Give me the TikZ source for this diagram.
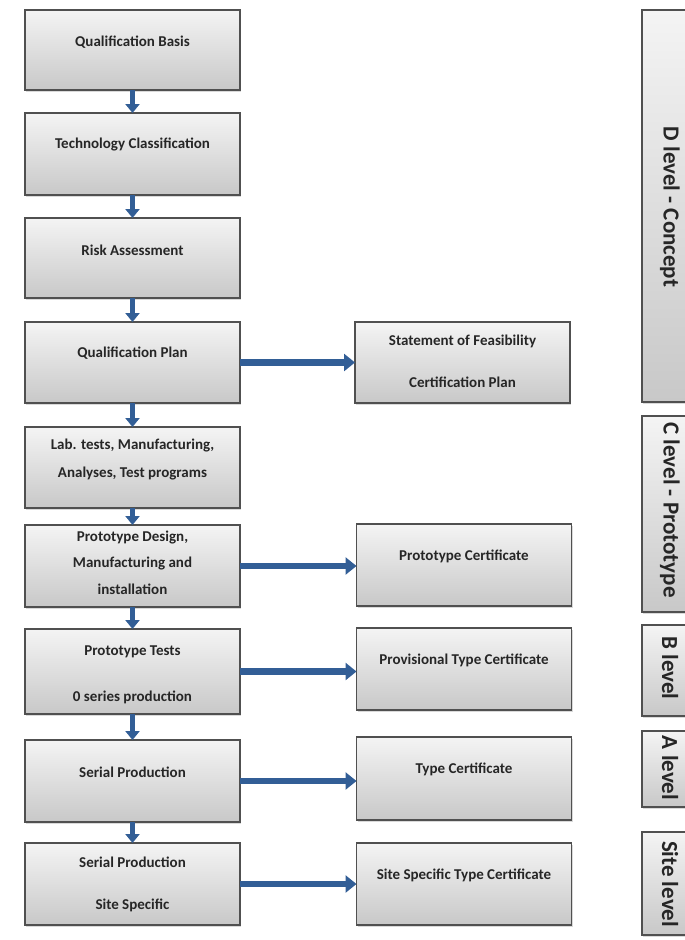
\documentclass[tikz,border=0pt]{standalone}
\usepackage{fontspec}
\setmainfont{Carlito}
\usetikzlibrary{arrows.meta,shadows}
\definecolor{boxtop}{RGB}{244,244,244}
\definecolor{boxbot}{RGB}{200,200,200}
\definecolor{boxline}{RGB}{80,80,80}
\definecolor{flow}{RGB}{50,94,150}
\tikzset{
  box/.style={rectangle, draw=boxline, line width=1.2pt, top color=boxtop, bottom color=boxbot,
    inner sep=0pt, drop shadow={shadow xshift=1.2pt, shadow yshift=-1.5pt, opacity=0.3}},
  lbox/.style={box, minimum width=215pt},
  lvl/.style={box, minimum width=52pt},
  txt/.style={font=\bfseries\fontsize{15}{17}\selectfont, text=black!85, inner sep=0pt},
  vtxt/.style={font=\bfseries\fontsize{23}{25}\selectfont, text=black!85, inner sep=0pt, rotate=-90},
  down/.style={draw=flow, line width=5.5pt, -{Triangle[length=9pt,width=14pt]}, shorten <=-0.6pt, shorten >=-0.6pt},
  across/.style={draw=flow, line width=6.5pt, -{Triangle[length=11pt,width=17pt]}, shorten <=-0.6pt, shorten >=-0.6pt}
}
\begin{document}
\begin{tikzpicture}[x=1pt,y=-1pt]
\useasboundingbox (0,0) rectangle (685,940);

% main process column
\node[lbox, minimum height=80pt] (qb) at (132.5,50) {};
\node[lbox, minimum height=82pt] (tc) at (132.5,154) {};
\node[lbox, minimum height=80pt] (ra) at (132.5,258) {};
\node[lbox, minimum height=81pt] (qp) at (132.5,362.5) {};
\node[lbox, minimum height=81pt] (lab) at (132.5,467.5) {};
\node[lbox, minimum height=82pt] (pd) at (132.5,566) {};
\node[lbox, minimum height=85pt] (pt) at (132.5,671.5) {};
\node[lbox, minimum height=82pt] (sp) at (132.5,781) {};
\node[lbox, minimum height=82pt] (ss) at (132.5,884) {};

\node[txt] at (132.5,42) {Qualification Basis};
\node[txt] at (132.5,144) {Technology Classification};
\node[txt] at (132.5,250) {Risk Assessment};
\node[txt] at (132.5,353) {Qualification Plan};
\node[txt] at (132.5,446) {Lab. tests, Manufacturing,};
\node[txt] at (132.5,474) {Analyses, Test programs};
\node[txt] at (132.5,538) {Prototype Design,};
\node[txt] at (132.5,563) {Manufacturing and};
\node[txt] at (132.5,589) {installation};
\node[txt] at (132.5,652) {Prototype Tests};
\node[txt] at (132.5,697) {0 series production};
\node[txt] at (132.5,772) {Serial Production};
\node[txt] at (132.5,862) {Serial Production};
\node[txt] at (132.5,905) {Site Specific};

% certificates issued along the way
\node[box, minimum width=215pt, minimum height=81pt] (sf) at (462.5,362.5) {};
\node[box, minimum width=215pt, minimum height=82pt] (pc) at (464,565) {};
\node[box, minimum width=215pt, minimum height=82pt] (ptc) at (464,669) {};
\node[box, minimum width=215pt, minimum height=83pt] (tyc) at (464,778.5) {};
\node[box, minimum width=215pt, minimum height=82pt] (ssc) at (464,884) {};

\node[txt] at (462.5,341) {Statement of Feasibility};
\node[txt] at (462.5,382) {Certification Plan};
\node[txt] at (464,556) {Prototype Certificate};
\node[txt] at (464,660) {Provisional Type Certificate};
\node[txt] at (464,769) {Type Certificate};
\node[txt] at (464,875) {Site Specific Type Certificate};

% qualification levels
\node[lvl, minimum height=392pt] (dl) at (668,206) {};
\node[lvl, minimum height=196pt] (cl) at (668,514) {};
\node[lvl, minimum height=91pt] (bl) at (668,670.5) {};
\node[lvl, minimum height=76pt] (al) at (668,769) {};
\node[lvl, minimum height=103pt] (sl) at (668,883.5) {};

\node[vtxt] at (670,207) {D level - Concept};
\node[vtxt] at (670,510) {C level - Prototype};
\node[vtxt] at (670,668) {B level};
\node[vtxt] at (670,768) {A level};
\node[vtxt] at (670,884) {Site level};

% flow between steps
\foreach \a/\b in {qb/tc, tc/ra, ra/qp, qp/lab, lab/pd, pd/pt, pt/sp, sp/ss}
  \draw[down] (\a.south) -- (\b.north);

% certificate outputs
\foreach \a/\b in {qp/sf, pd/pc, pt/ptc, sp/tyc, ss/ssc}
  \draw[across] (\a.east) -- (\a.east -| \b.west);
\end{tikzpicture}
\end{document}
